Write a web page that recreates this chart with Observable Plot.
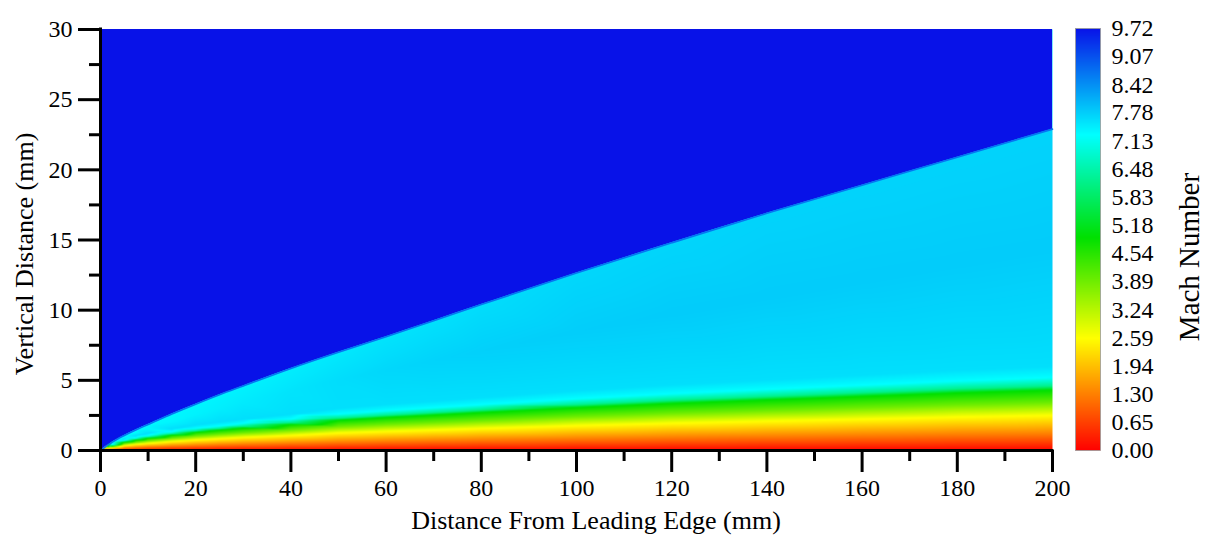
<!DOCTYPE html>
<html>
<head>
<meta charset="utf-8">
<script src="https://cdn.jsdelivr.net/npm/d3@7"></script>
<script src="https://cdn.jsdelivr.net/npm/@observablehq/plot@0.6"></script>
<style>
  html, body { margin: 0; padding: 0; background: #fff; }
  #chart { position: relative; width: 1206px; height: 538px; }
  #chart svg { position: absolute; top: 0; }
</style>
</head>
<body>
<div id="chart"></div>
<script>
// ---- Flow field over a flat plate: Mach number samples (mm) ----
const freestreamMach = 9.72;
const shockFrontMach = 8.7;

// Streamwise stations along the plate
const stations = [0, 2.5, 5, 7.5, 10, 15, 20, 25, 30, 40, 50, 60, 70, 80, 100, 120, 140, 160, 180, 200];

// Height of the leading-edge shock at each station
const shockHeight = [0, 0.6, 1.07, 1.48, 1.85, 2.6, 3.3, 3.97, 4.6, 5.85, 7.0, 8.1, 9.25, 10.4, 12.65, 14.8, 16.9, 18.9, 20.9, 22.9];
// Mach number just behind the shock
const postShockMach = [7.27, 7.28, 7.3, 7.31, 7.32, 7.34, 7.36, 7.38, 7.4, 7.45, 7.5, 7.55, 7.58, 7.62, 7.68, 7.7, 7.72, 7.72, 7.72, 7.72];

// Middle of the shock layer: height and Mach number
const yShockLayerMid = [0, 0.52, 0.95, 1.27, 1.54, 2.07, 2.56, 3.0, 3.42, 4.22, 5.0, 5.7, 6.39, 7.09, 8.46, 9.75, 10.97, 12.15, 13.32, 14.45];
const shockLayerMidMach = [7.27, 7.28, 7.3, 7.31, 7.33, 7.36, 7.4, 7.44, 7.48, 7.55, 7.62, 7.68, 7.72, 7.75, 7.78, 7.8, 7.8, 7.8, 7.8, 7.8];

// Boundary-layer profile: Mach level and its height at each station
const profileMach = [1.3, 2.59, 3.9, 4.9, 6.2, 7.27, 7.6];
const yMach130 = [0, 0.09, 0.17, 0.21, 0.25, 0.31, 0.36, 0.41, 0.45, 0.52, 0.60, 0.66, 0.71, 0.76, 0.85, 0.94, 1.01, 1.08, 1.15, 1.20];
const yMach259 = [0, 0.19, 0.35, 0.44, 0.51, 0.64, 0.75, 0.84, 0.93, 1.07, 1.25, 1.36, 1.46, 1.57, 1.77, 1.94, 2.09, 2.23, 2.38, 2.50];
const yMach390 = [0, 0.26, 0.47, 0.59, 0.70, 0.87, 1.03, 1.15, 1.26, 1.46, 1.70, 1.86, 1.99, 2.13, 2.41, 2.65, 2.84, 3.04, 3.24, 3.40];
const yMach490 = [0, 0.33, 0.60, 0.75, 0.88, 1.10, 1.30, 1.45, 1.60, 1.85, 2.15, 2.35, 2.52, 2.70, 3.05, 3.35, 3.60, 3.85, 4.10, 4.30];
const yMach620 = [0, 0.35, 0.64, 0.80, 0.94, 1.18, 1.39, 1.55, 1.71, 1.98, 2.30, 2.51, 2.70, 2.89, 3.26, 3.58, 3.85, 4.12, 4.39, 4.60];
const yMach727 = [0, 0.40, 0.73, 0.91, 1.06, 1.33, 1.57, 1.75, 1.94, 2.24, 2.60, 2.84, 3.05, 3.27, 3.69, 4.05, 4.36, 4.66, 4.96, 5.20];
const yMach760 = [0, 0.46, 0.84, 1.05, 1.23, 1.54, 1.82, 2.03, 2.24, 2.59, 3.01, 3.29, 3.53, 3.78, 4.27, 4.69, 5.04, 5.39, 5.74, 6.00];
const profileHeights = [yMach130, yMach259, yMach390, yMach490, yMach620, yMach727, yMach760];

const domainTop = 30;

// Axis ticks
const xTicks = [0, 20, 40, 60, 80, 100, 120, 140, 160, 180, 200];
const xMinorTicks = [10, 30, 50, 70, 90, 110, 130, 150, 170, 190];
const yTicks = [0, 5, 10, 15, 20, 25, 30];
const yMinorTicks = [2.5, 7.5, 12.5, 17.5, 22.5, 27.5];

// Colour bar labels and colour map stops
const colorbarLabels = ["0.00", "0.65", "1.30", "1.94", "2.59", "3.24", "3.89", "4.54",
                        "5.18", "5.83", "6.48", "7.13", "7.78", "8.42", "9.07", "9.72"];
const colorStops = [0, 2.59, 4.9, 7.27, 9.72];
const colorRange = ["#ff0000", "#ffff00", "#00e000", "#00ffff", "#0812e8"];

// ---- Samples below the shock (plate surface, boundary layer, shock layer) ----
const samples = [];
stations.forEach((x, i) => {
  samples.push({x, y: 0, mach: 0}); // no-slip surface
  if (i === 0) return;
  profileMach.forEach((m, k) => samples.push({x, y: profileHeights[k][i], mach: m}));
  samples.push({x, y: yShockLayerMid[i], mach: shockLayerMidMach[i]});
  samples.push({x, y: shockHeight[i], mach: postShockMach[i]});
});

// Undisturbed stream above the shock
const freestream = stations.map((x, i) => ({x, y1: shockHeight[i], y2: domainTop, mach: freestreamMach}));
const shockFront = stations.map((x, i) => ({x, y: shockHeight[i], mach: shockFrontMach}));

const serif = "'Liberation Serif', 'Times New Roman', serif";
const colorOptions = {type: "linear", domain: colorStops, range: colorRange, interpolate: "rgb", clamp: true};

// ---- Main contour field ----
const main = Plot.plot({
  width: 1206,
  height: 538,
  marginLeft: 100,
  marginRight: 154,
  marginTop: 29,
  marginBottom: 88,
  style: {fontFamily: serif, fontSize: "24px", color: "#000", background: "transparent"},
  x: {domain: [0, 200], label: null},
  y: {domain: [0, 30], label: null},
  color: colorOptions,
  marks: [
    Plot.raster(samples, {x: "x", y: "y", fill: "mach", x1: 0, x2: 200, y1: 0, y2: 30, interpolate: "barycentric"}),
    Plot.areaY(freestream, {x: "x", y1: "y1", y2: "y2", fill: "mach", curve: "monotone-x"}),
    Plot.line(shockFront, {x: "x", y: "y", stroke: "mach", strokeWidth: 1.6, curve: "monotone-x"}),
    Plot.axisX({ticks: xMinorTicks, tickSize: 11, strokeWidth: 3, tickFormat: () => "", label: null}),
    Plot.axisX({ticks: xTicks, tickSize: 22, tickPadding: 6, strokeWidth: 3, fontSize: 24, label: null}),
    Plot.axisY({ticks: yMinorTicks, tickSize: 11, strokeWidth: 3, tickFormat: () => "", label: null}),
    Plot.axisY({ticks: yTicks, tickSize: 22, tickPadding: 6, strokeWidth: 3, fontSize: 24, label: null}),
    Plot.ruleX([0], {strokeWidth: 3, strokeLinecap: "square"}),
    Plot.ruleY([0], {strokeWidth: 3, strokeLinecap: "square"})
  ]
});

const sm = d3.select(main);
sm.append("text")
  .attr("x", 596).attr("y", 529)
  .attr("text-anchor", "middle")
  .style("font-family", serif).style("font-size", "26px").attr("fill", "#000")
  .text("Distance From Leading Edge (mm)");
sm.append("text")
  .attr("transform", "translate(33,254) rotate(-90)")
  .attr("text-anchor", "middle")
  .style("font-family", serif).style("font-size", "26px").attr("fill", "#000")
  .text("Vertical Distance (mm)");

// ---- Colour bar ----
const bar = Plot.plot({
  width: 166,
  height: 538,
  marginLeft: 35,
  marginRight: 106,
  marginTop: 28,
  marginBottom: 88,
  style: {fontFamily: serif, fontSize: "24px", color: "#000", background: "transparent"},
  x: {domain: [0, 1], axis: null},
  y: {domain: [0, freestreamMach], axis: null},
  color: colorOptions,
  marks: [
    Plot.raster({fill: (x, y) => y, x1: 0, x2: 1, y1: 0, y2: freestreamMach}),
    Plot.frame({stroke: "#9a9a9a", strokeWidth: 0.8}),
    Plot.axisY({
      anchor: "right",
      ticks: colorbarLabels.map(Number),
      tickFormat: d => d.toFixed(2),
      tickSize: 0,
      tickPadding: 11,
      fontSize: 24,
      label: null
    })
  ]
});
bar.style.left = "1040px";
d3.select(bar).append("text")
  .attr("transform", "translate(159,257) rotate(-90)")
  .attr("text-anchor", "middle")
  .style("font-family", serif).style("font-size", "29px").attr("fill", "#000")
  .text("Mach Number");

const chart = document.getElementById("chart");
chart.appendChild(main);
chart.appendChild(bar);
</script>
</body>
</html>
